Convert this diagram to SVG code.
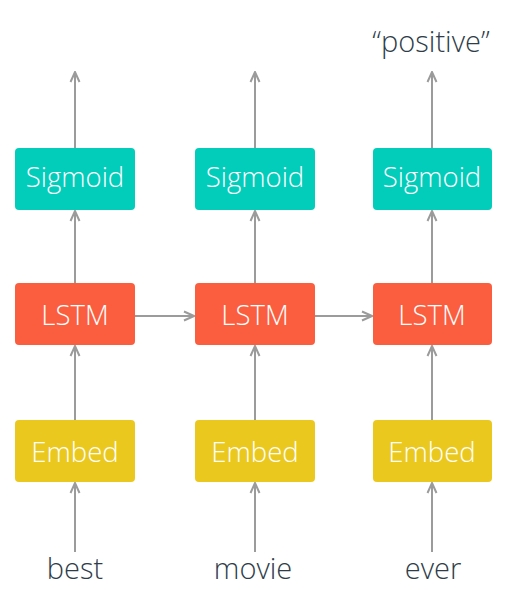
<svg xmlns="http://www.w3.org/2000/svg" width="511" height="590" viewBox="0 0 511 590">
<style>
.box{stroke:none}
.sig{fill:#02CCBA}
.lstm{fill:#FA5E3F}
.emb{fill:#EBC81E}
.bt{font-family:"Open Sans","DejaVu Sans",sans-serif;font-size:27.5px;font-weight:300;fill:#ffffff;text-anchor:middle}
.lbl{font-family:"Open Sans","DejaVu Sans",sans-serif;font-size:29px;font-weight:300;fill:#2E3D49;text-anchor:middle}
.edge{stroke:#9B9B9B;stroke-width:2;fill:none;marker-end:url(#ah)}
</style>
<defs>
<marker id="ah" viewBox="0 0 12 12" refX="11" refY="6" markerWidth="12" markerHeight="12" markerUnits="userSpaceOnUse" orient="auto">
<path d="M1,1.5 L11,6 L1,10.5" fill="none" stroke="#9B9B9B" stroke-width="2"/>
</marker>
</defs>
<g id="connectors">
<line class="edge" x1="75" y1="552" x2="75" y2="483"/>
<line class="edge" x1="255" y1="552" x2="255" y2="483"/>
<line class="edge" x1="432" y1="552" x2="432" y2="483"/>
<line class="edge" x1="75" y1="420" x2="75" y2="346"/>
<line class="edge" x1="255" y1="420" x2="255" y2="346"/>
<line class="edge" x1="432" y1="420" x2="432" y2="346"/>
<line class="edge" x1="75" y1="283" x2="75" y2="211"/>
<line class="edge" x1="255" y1="283" x2="255" y2="211"/>
<line class="edge" x1="432" y1="283" x2="432" y2="211"/>
<line class="edge" x1="75" y1="148" x2="75" y2="72"/>
<line class="edge" x1="255" y1="148" x2="255" y2="72"/>
<line class="edge" x1="432" y1="148" x2="432" y2="72"/>
<line class="edge" x1="135" y1="316" x2="194" y2="316"/>
<line class="edge" x1="315" y1="316" x2="372" y2="316"/>
</g>
<g id="sigmoid1"><rect class="box sig" x="15" y="148" width="120" height="62" rx="4"/><text class="bt" x="75" y="187">Sigmoid</text></g>
<g id="sigmoid2"><rect class="box sig" x="195" y="148" width="120" height="62" rx="4"/><text class="bt" x="255" y="187">Sigmoid</text></g>
<g id="sigmoid3"><rect class="box sig" x="373" y="148" width="119" height="62" rx="4"/><text class="bt" x="432" y="187">Sigmoid</text></g>
<g id="lstm1"><rect class="box lstm" x="15" y="283" width="120" height="62" rx="4"/><text class="bt" x="75" y="325">LSTM</text></g>
<g id="lstm2"><rect class="box lstm" x="195" y="283" width="120" height="62" rx="4"/><text class="bt" x="255" y="325">LSTM</text></g>
<g id="lstm3"><rect class="box lstm" x="373" y="283" width="119" height="62" rx="4"/><text class="bt" x="432" y="325">LSTM</text></g>
<g id="embed1"><rect class="box emb" x="15" y="420" width="120" height="62" rx="4"/><text class="bt" x="75" y="462">Embed</text></g>
<g id="embed2"><rect class="box emb" x="195" y="420" width="120" height="62" rx="4"/><text class="bt" x="255" y="462">Embed</text></g>
<g id="embed3"><rect class="box emb" x="373" y="420" width="119" height="62" rx="4"/><text class="bt" x="432" y="462">Embed</text></g>
<g id="in1"><text class="lbl" x="75" y="579">best</text></g>
<g id="in2"><text class="lbl" x="253" y="579">movie</text></g>
<g id="in3"><text class="lbl" x="433" y="579">ever</text></g>
<g id="out3"><text class="lbl" x="431" y="52">“positive”</text></g>
</svg>
